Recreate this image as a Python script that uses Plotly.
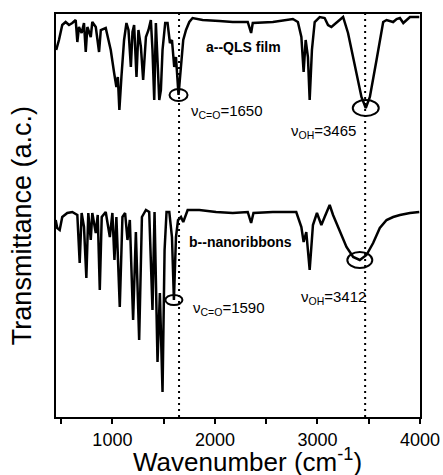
import numpy as np
import plotly.graph_objects as go

# Spectrum a: QLS film (wavenumber, transmittance in arbitrary units)
wn_a = [452,479,511,544,577,609,642,658,674,700,723,740,756,789,804,838,870,887,935,984,
        1017,1039,1053,1068,1088,1114,1137,1157,1180,1196,1212,1235,1254,1278,1300,1327,1352,
        1375,1391,1408,1424,1440,1457,1473,1489,1515,1538,1561,1581,1603,1620,1645,1669,1691,
        1718,1750,1782,1880,2043,2174,2320,2353,2369,2565,2760,2809,2843,2865,2885,2907,2924,
        2946,2973,3022,3070,3103,3136,3185,3250,3298,3364,3429,3471,3511,3576,3641,3674,3738,
        3772,3804,3837,3869,3902,3934,3993]
T_a = [367,377,392,395,392,394,397,375,390,384,394,365,390,380,395,390,365,387,389,367,
       344,330,340,307,340,377,394,387,350,385,392,340,387,370,337,380,387,
       397,367,317,394,350,317,327,367,394,394,374,377,350,360,322,350,377,
       387,395,399,397,396,395,395,384,394,395,398,395,380,345,377,360,317,
       367,395,400,399,392,390,394,400,384,350,320,309,320,357,395,397,395,
       398,399,394,397,400,400,400]

# Spectrum b: nanoribbons
wn_b = [447,462,486,511,560,609,658,681,700,723,746,765,789,804,838,857,877,896,935,975,
        1000,1020,1039,1072,1098,1124,1147,1170,1202,1229,1261,1288,1327,1359,1391,1411,1440,
        1463,1489,1509,1528,1555,1581,1600,1620,1640,1669,1691,1734,1848,2011,2174,2320,2353,
        2376,2565,2793,2843,2865,2891,2924,2956,2995,3038,3070,3119,3152,3217,3283,3348,3413,
        3478,3543,3608,3674,3738,3804,3902,3993]
T_b = [197,189,187,200,204,205,202,154,204,190,139,204,177,204,184,202,127,200,205,180,
       204,157,200,110,200,204,177,197,97,185,77,200,207,205,107,205,55,
       124,25,167,205,205,180,117,180,197,200,195,207,207,205,204,205,194,
       204,205,205,190,175,185,147,192,204,192,200,212,202,187,170,160,157,
       162,174,189,197,200,202,204,205]

# Marked peaks (labelled wavenumbers)
marks_a = [1650, 3465]
marks_b = [1590, 3412]
dotted_lines = [1650, 3465]
x_ticks = [1000, 2000, 3000, 4000]

FONT = "Liberation Sans, Arial, sans-serif"

fig = go.Figure()
fig.add_trace(go.Scatter(x=wn_a, y=T_a, mode="lines",
                         line=dict(color="black", width=2.5), showlegend=False))
fig.add_trace(go.Scatter(x=wn_b, y=T_b, mode="lines",
                         line=dict(color="black", width=2.5), showlegend=False))

for xv in dotted_lines:
    fig.add_shape(type="line", xref="x", yref="paper", x0=xv, x1=xv, y0=0, y1=1,
                  line=dict(color="black", width=2, dash="2px,4px"))

def peak_pos(wn, T, target, win=45):
    wn = np.asarray(wn); T = np.asarray(T)
    m = (wn > target - win) & (wn < target + win)
    i = np.argmin(T[m])
    return wn[m][i], T[m][i]

ell = [(wn_a, T_a, marks_a[0], 88, 6), (wn_a, T_a, marks_a[1], 127, 8),
       (wn_b, T_b, marks_b[0], 83, 5), (wn_b, T_b, marks_b[1], 122, 8)]
for wn, T, tgt, hw, hh in ell:
    cx, cy = peak_pos(wn, T, tgt)
    fig.add_shape(type="circle", xref="x", yref="y", x0=cx - hw, x1=cx + hw,
                  y0=cy - hh, y1=cy + hh, line=dict(color="black", width=2))

ann = [
    ("<b>a--QLS film</b>", 2278, 370, "center", 14),
    ("ν<sub>C=O</sub>=1650", 1745, 306, "left", 15),
    ("ν<sub>OH</sub>=3465", 2720, 286, "left", 15),
    ("<b>b--nanoribbons</b>", 1730, 175, "left", 14),
    ("ν<sub>OH</sub>=3412", 2820, 120, "left", 15),
    ("ν<sub>C=O</sub>=1590", 1765, 109, "left", 15),
]
for txt, x, y, xa, fs in ann:
    fig.add_annotation(text=txt, x=x, y=y, xref="x", yref="y", xanchor=xa,
                       yanchor="middle", showarrow=False,
                       font=dict(family=FONT, size=fs, color="black"))

# axis titles
fig.add_annotation(text="Wavenumber (cm<sup>-1</sup>)", xref="paper", yref="paper",
                   x=0.526, y=-0.107, xanchor="center", yanchor="middle",
                   showarrow=False, font=dict(family=FONT, size=26, color="black"))
fig.add_annotation(text="Transmittance (a.c.)", xref="paper", yref="paper",
                   x=-0.093, y=0.474, xanchor="center", yanchor="middle",
                   textangle=-90, showarrow=False,
                   font=dict(family=FONT, size=27, color="black"))

fig.update_layout(
    width=443, height=475, margin=dict(l=56, r=23, t=14, b=58),
    paper_bgcolor="white", plot_bgcolor="white",
    font=dict(family=FONT, color="black"),
    xaxis=dict(range=[450, 4000], tickvals=x_ticks, ticks="outside", ticklen=5,
               tickwidth=2, tickcolor="black", showline=True, linewidth=2,
               linecolor="black", mirror=True, showgrid=False, zeroline=False,
               tickfont=dict(size=18), automargin=False,
               minor=dict(dtick=500, tick0=500, ticks="outside", ticklen=5,
                          tickwidth=2, tickcolor="black", showgrid=False)),
    yaxis=dict(range=[0, 403], showticklabels=False, ticks="", showline=True,
               linewidth=2, linecolor="black", mirror=True, showgrid=False,
               zeroline=False, automargin=False),
)

fig.write_html("out.html")
